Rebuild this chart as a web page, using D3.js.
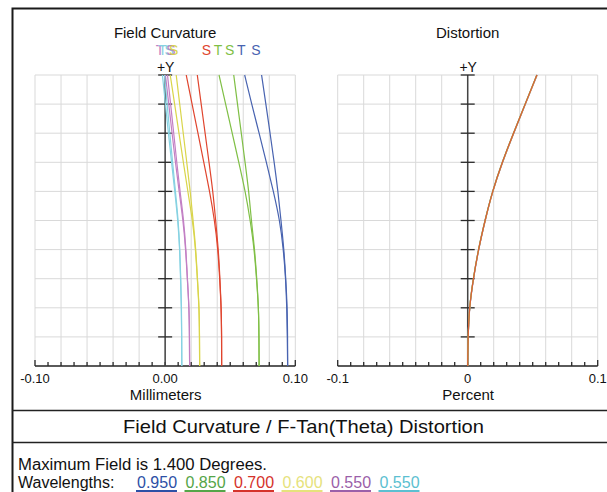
<!DOCTYPE html>
<html><head><meta charset="utf-8">
<script src="https://cdn.jsdelivr.net/npm/d3@7"></script>
<style>html,body{margin:0;padding:0;background:#fff}svg{display:block;font-family:"Liberation Sans",Arial,sans-serif}</style>
</head><body><svg id="c" width="607" height="492"></svg>
<script>
// ---- data ----
const wavelengths = ["0.950","0.850","0.700","0.600","0.550","0.550"];
const waveColors = ["#2d50a6","#55a548","#d5332b","#e6e27c","#9b5fa9","#5cbfd1"];
const curveColors = ["#4863b0","#7fbf45","#e0452e","#d9d54a","#c27fc4","#86d2e2"];
const fields = [0,0.14,0.28,0.42,0.56,0.70,0.84,0.98,1.12,1.26,1.40];
// Field curvature, tangential (mm) per wavelength
const fcT = [
  [0.0941,0.0939,0.0935,0.0926,0.0909,0.0881,0.0832,0.0778,0.0722,0.0665,0.0611],
  [0.0722,0.0721,0.0718,0.0702,0.0685,0.0654,0.0616,0.0566,0.0515,0.0465,0.0414],
  [0.0434,0.0434,0.0431,0.0419,0.0406,0.0380,0.0342,0.0297,0.0252,0.0207,0.0162],
  [0.0265,0.0264,0.0261,0.0247,0.0234,0.0211,0.0174,0.0140,0.0106,0.0073,0.0039],
  [0.0188,0.0187,0.0184,0.0170,0.0158,0.0138,0.0107,0.0079,0.0053,0.0028,0.0002],
  [0.0128,0.0127,0.0125,0.0118,0.0112,0.0098,0.0074,0.0049,0.0025,0.0002,-0.0021]
];
// Field curvature, sagittal (mm) per wavelength
const fcS = [
  [0.0941,0.0941,0.0938,0.0927,0.0913,0.0890,0.0867,0.0838,0.0806,0.0774,0.0741],
  [0.0722,0.0721,0.0718,0.0704,0.0688,0.0662,0.0643,0.0614,0.0585,0.0556,0.0527],
  [0.0434,0.0434,0.0431,0.0421,0.0409,0.0388,0.0367,0.0337,0.0307,0.0277,0.0247],
  [0.0265,0.0264,0.0262,0.0248,0.0236,0.0215,0.0193,0.0166,0.0139,0.0112,0.0085],
  [0.0188,0.0187,0.0184,0.0171,0.0160,0.0143,0.0114,0.0089,0.0066,0.0042,0.0018],
  [0.0128,0.0127,0.0126,0.0120,0.0113,0.0101,0.0079,0.0057,0.0036,0.0015,-0.0005]
];
// Distortion (%) per wavelength
const distValues = [
  [0,0.0003,0.0012,0.0043,0.0082,0.0133,0.0190,0.0266,0.0353,0.0443,0.0533],
  [0,0.0003,0.0012,0.0042,0.0081,0.0132,0.0189,0.0264,0.0351,0.0441,0.0531],
  [0,0.0003,0.0012,0.0043,0.0082,0.0133,0.0190,0.0265,0.0352,0.0442,0.0532],
  [0,0.0003,0.0012,0.0043,0.0082,0.0134,0.0191,0.0266,0.0353,0.0443,0.0534],
  [0,0.0003,0.0013,0.0044,0.0083,0.0134,0.0191,0.0267,0.0354,0.0444,0.0535],
  [0,0.0003,0.0012,0.0043,0.0083,0.0133,0.0190,0.0265,0.0352,0.0442,0.0532]
];
const fcTickLabels = ["-0.10","0.00","0.10"];
const distTickLabels = ["-0.1","0","0.1"];
const legendLetters = [
  {t:"T",x:-0.0040,c:4},{t:"T",x:-0.0020,c:5},{t:"S",x:0.0030,c:5},{t:"S",x:0.0045,c:4},{t:"S",x:0.0066,c:3},
  {t:"S",x:0.0318,c:2},{t:"T",x:0.0406,c:1},{t:"S",x:0.0495,c:1},{t:"T",x:0.0585,c:0},{t:"S",x:0.0698,c:0}
];

// ---- drawing ----
const svg = d3.select("#c");
const dark = "#2a2a2a";
const y = d3.scaleLinear().domain([0,1.4]).range([366,75]);
const xL = d3.scaleLinear().domain([-0.1,0.1]).range([35,295.3]);
const xR = d3.scaleLinear().domain([-0.1,0.1]).range([337.7,597.7]);
const gridX = d3.range(-0.1,0.1001,0.02);
const gridY = d3.range(0,1.4001,0.14);
const minorX = d3.range(-0.1,0.1001,0.01);

function panel(x, title, xlabel, tickLabels){
  const g = svg.append("g");
  g.selectAll(".gv").data(gridX).join("line")
    .attr("x1",d=>x(d)).attr("x2",d=>x(d)).attr("y1",y(0)).attr("y2",y(1.4))
    .attr("stroke","#d9d9d9").attr("stroke-width",1);
  g.selectAll(".gh").data(gridY).join("line")
    .attr("x1",x(-0.1)).attr("x2",x(0.1)).attr("y1",d=>y(d)).attr("y2",d=>y(d))
    .attr("stroke","#d9d9d9").attr("stroke-width",1);
  g.append("line").attr("x1",x(-0.1)).attr("x2",x(0.1)).attr("y1",y(0)).attr("y2",y(0))
    .attr("stroke",dark).attr("stroke-width",1.5);
  g.selectAll(".mt").data(minorX).join("line")
    .attr("x1",d=>x(d)).attr("x2",d=>x(d)).attr("y1",y(0)).attr("y2",(d,i)=> (i===0||i===minorX.length-1)? y(0)-6 : y(0)-4)
    .attr("stroke",dark).attr("stroke-width",1.3);
  g.append("line").attr("x1",x(0)).attr("x2",x(0)).attr("y1",y(0)).attr("y2",y(1.4))
    .attr("stroke","#444").attr("stroke-width",1.5);
  g.selectAll(".yt").data(gridY.slice(1)).join("line")
    .attr("x1",x(0)-7).attr("x2",x(0)+7).attr("y1",d=>y(d)).attr("y2",d=>y(d))
    .attr("stroke",dark).attr("stroke-width",1.3);
  g.selectAll(".tl").data([-0.1,0,0.1]).join("text")
    .attr("x",d=>x(d)).attr("y",383).attr("text-anchor","middle")
    .attr("font-size",13).attr("fill","#111").text((d,i)=>tickLabels[i]);
  g.append("text").attr("x",x(0)+0.5).attr("y",399.5).attr("text-anchor","middle")
    .attr("font-size",15).attr("fill","#111").text(xlabel);
  g.append("text").attr("x",x(0)).attr("y",37.5).attr("text-anchor","middle")
    .attr("font-size",15).attr("fill","#111").text(title);
  g.append("text").attr("x",x(0)+0.5).attr("y",71.5).attr("text-anchor","middle")
    .attr("font-size",14).attr("fill","#111").text("+Y");
  return g;
}
const gL = panel(xL,"Field Curvature","Millimeters",fcTickLabels);
const gR = panel(xR,"Distortion","Percent",distTickLabels);

const lineL = d3.line().x(d=>xL(d[1])).y(d=>y(d[0])).curve(d3.curveBasis);
[0,1,2,3,4,5].forEach(i=>{
  [fcT[i],fcS[i]].forEach(arr=>{
    gL.append("path").datum(fields.map((f,j)=>[f,arr[j]]))
      .attr("d",lineL).attr("fill","none").attr("stroke",curveColors[i]).attr("stroke-width",1.2);
  });
});
gL.selectAll(".lg").data(legendLetters).join("text")
  .attr("x",d=>xL(d.x)).attr("y",55).attr("text-anchor","middle")
  .attr("font-size",14).attr("fill",d=>curveColors[d.c]).text(d=>d.t);

const lineR = d3.line().x(d=>xR(d[1])).y(d=>y(d[0])).curve(d3.curveBasis);
[5,4,0,1,3,2].forEach(i=>{
  gR.append("path").datum(fields.map((f,j)=>[f,distValues[i][j]]))
    .attr("d",lineR).attr("fill","none").attr("stroke",curveColors[i]).attr("stroke-width",1.2).attr("stroke-opacity",0.8);
});

// frame
svg.append("path").attr("d","M12.5,492 V8.5 H607").attr("fill","none").attr("stroke","#1a1a1a").attr("stroke-width",2);
svg.append("line").attr("x1",12).attr("x2",607).attr("y1",410.5).attr("y2",410.5).attr("stroke","#222").attr("stroke-width",1.5);
svg.append("line").attr("x1",12).attr("x2",607).attr("y1",442.5).attr("y2",442.5).attr("stroke","#222").attr("stroke-width",1.5);

svg.append("text").attr("x",123).attr("y",432.5)
  .attr("font-size",18.5).attr("fill","#111")
  .attr("textLength",361).attr("lengthAdjust","spacingAndGlyphs")
  .text("Field Curvature / F-Tan(Theta) Distortion");
svg.append("text").attr("x",18).attr("y",470).attr("font-size",16).attr("fill","#111")
  .attr("textLength",249).attr("lengthAdjust","spacingAndGlyphs")
  .text("Maximum Field is 1.400 Degrees.");
svg.append("text").attr("x",18).attr("y",488).attr("font-size",16).attr("fill","#111")
  .text("Wavelengths:");
const wg = svg.selectAll(".wv").data(wavelengths).join("g");
wg.append("text").attr("x",(d,i)=>137+i*48.5).attr("y",488).attr("font-size",16)
  .attr("fill",(d,i)=>waveColors[i]).text(d=>d);
wg.append("line").attr("x1",(d,i)=>136+i*48.5).attr("x2",(d,i)=>177+i*48.5)
  .attr("y1",491).attr("y2",491).attr("stroke",(d,i)=>waveColors[i]).attr("stroke-width",2);
</script></body></html>
